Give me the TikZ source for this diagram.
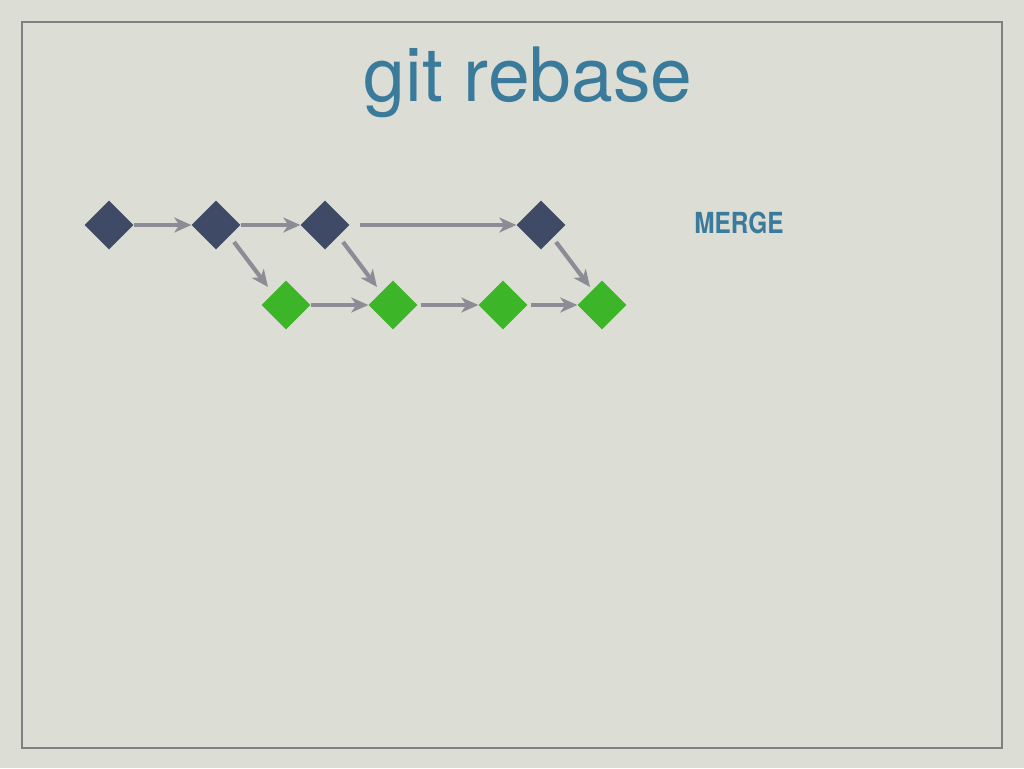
\documentclass[tikz,border=0pt]{standalone}
\usepackage{fontspec}
\setmainfont{TeX Gyre Heros}
\usetikzlibrary{shapes.geometric,arrows.meta,calc}
\definecolor{bg}{RGB}{220,221,212}
\definecolor{frame}{RGB}{128,128,128}
\definecolor{darkc}{RGB}{62,74,102}
\definecolor{greenc}{RGB}{61,181,40}
\definecolor{titlec}{RGB}{58,122,155}
\definecolor{arrowc}{RGB}{140,140,150}
\tikzset{
  commit/.style={diamond,inner sep=0pt,minimum size=49pt,draw=none},
  dcommit/.style={commit,fill=darkc},
  gcommit/.style={commit,fill=greenc},
  link/.style={draw=arrowc,line width=4.2pt,-{Stealth[length=17pt,width=15pt,inset=5pt]}},
}
\begin{document}
\begin{tikzpicture}[x=1pt,y=-1pt]
\fill[bg] (0,0) rectangle (1024,768);
\useasboundingbox (0,0) rectangle (1024,768);
\draw[frame,line width=1.2pt] (22,22) rectangle (1002,748);
\node[text=titlec,font=\fontsize{75}{90}\selectfont,anchor=base] (title) at (528,101) {git rebase};
\node[text=titlec,font=\bfseries\fontsize{29}{34}\selectfont,xscale=0.84] (merge) at (739,223) {MERGE};
\node[dcommit] (a1) at (109,225) {};
\node[dcommit] (a2) at (216,225) {};
\node[dcommit] (a3) at (325,225) {};
\node[dcommit] (a4) at (541,225) {};
\node[gcommit] (b1) at (286,305) {};
\node[gcommit] (b2) at (393,305) {};
\node[gcommit] (b3) at (503,305) {};
\node[gcommit] (b4) at (602,305) {};
\draw[link] (a1.east) -- (a2.west);
\draw[link] (a2.east) -- (a3.west);
\draw[link,shorten <=10pt] (a3.east) -- (a4.west);
\draw[link] ($(a2)+(18,17)$) -- ($(b1)+(-18,-18)$);
\draw[link] ($(a3)+(18,17)$) -- ($(b2)+(-16,-18)$);
\draw[link] ($(a4)+(15,17)$) -- ($(b4)+(-12,-18)$);
\draw[link] (b1.east) -- (b2.west);
\draw[link,shorten <=3pt] (b2.east) -- (b3.west);
\draw[link,shorten <=3pt] (b3.east) -- (b4.west);
\end{tikzpicture}
\end{document}
